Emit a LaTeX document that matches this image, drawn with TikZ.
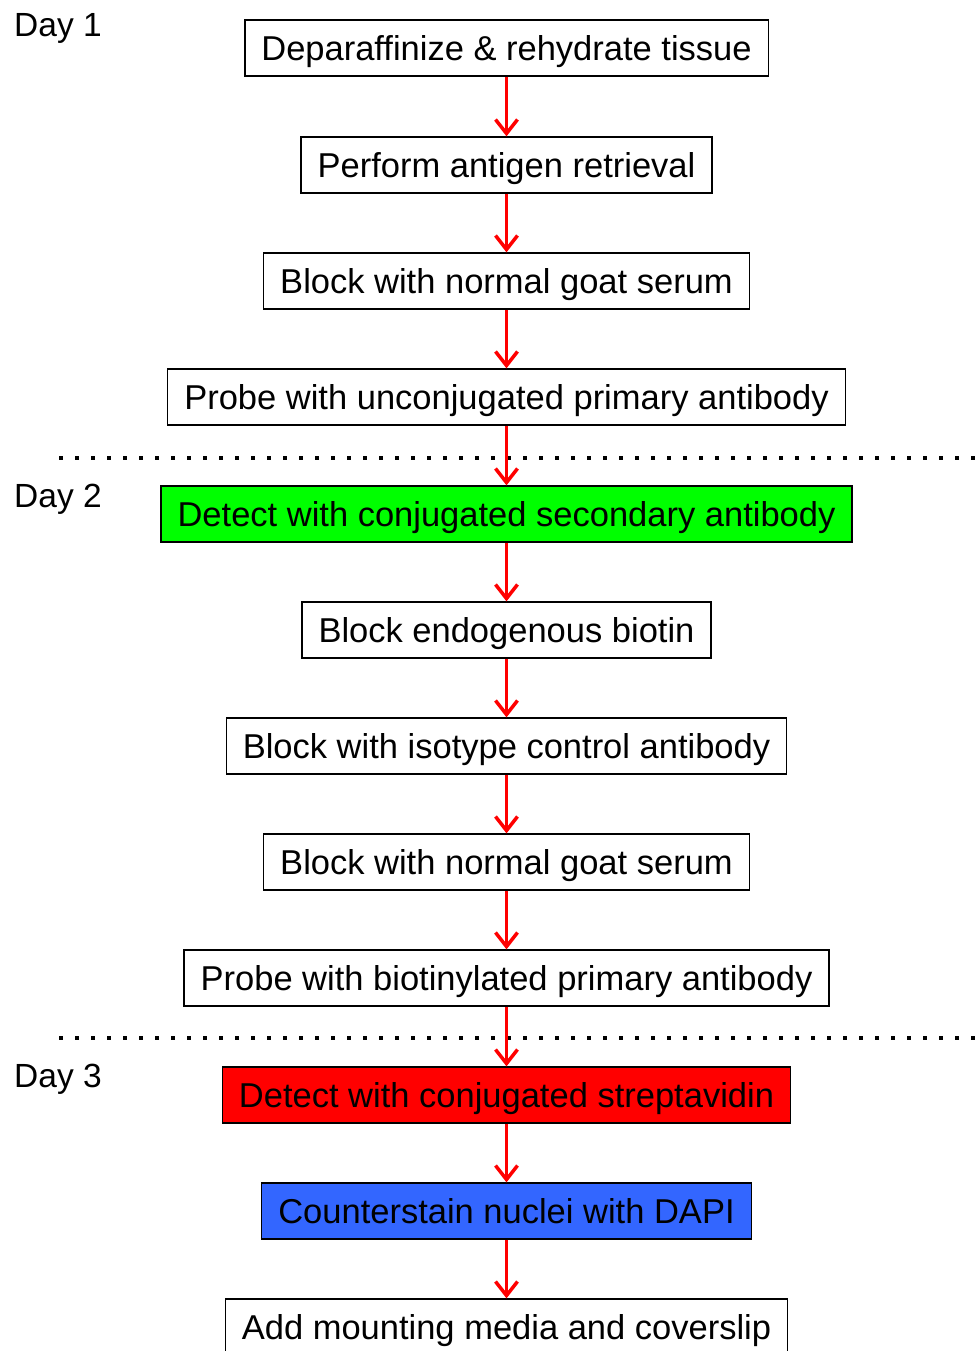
\documentclass[tikz,border=0pt]{standalone}
\usepackage{fontspec}
\setmainfont{Liberation Sans}
\usepackage{xcolor}
\usetikzlibrary{arrows.meta}

\definecolor{stepgreen}{RGB}{0,255,0}
\definecolor{stepred}{RGB}{255,0,0}
\definecolor{stepblue}{RGB}{51,102,255}

\begin{document}
\begin{tikzpicture}[x=1pt, y=-1pt,
  stepbox/.style={draw=black, line width=1.3pt, minimum height=56pt, inner xsep=16.5pt, inner ysep=0pt,
    text height=24.7pt, text depth=0pt, font=\fontsize{34.5}{40}\selectfont},
  flow/.style={draw=red, line width=3.5pt, -{Straight Barb[length=14pt,width=22pt]}},
  daysep/.style={line width=3.5pt, dash pattern=on 3.5pt off 12.5pt},
  daylabel/.style={anchor=base west, inner sep=0pt, font=\fontsize{33.5}{40}\selectfont}]
  \useasboundingbox (0,0) rectangle (979,1351);

  % Day labels
  \node[daylabel] (day1) at (14,37) {Day 1};
  \node[daylabel] (day2) at (14,507) {Day 2};
  \node[daylabel] (day3) at (14,1087) {Day 3};

  % Separators between days
  \draw[daysep] (59,458) -- (979,458);
  \draw[daysep] (59,1038) -- (979,1038);

  % Steps
  \node[stepbox] (s1) at (506.5,48) {Deparaffinize \& rehydrate tissue};
  \node[stepbox] (s2) at (506.5,165) {Perform antigen retrieval};
  \node[stepbox] (s3) at (506.5,281) {Block with normal goat serum};
  \node[stepbox] (s4) at (506.5,397) {Probe with unconjugated primary antibody};
  \node[stepbox, fill=stepgreen] (s5) at (506.5,514) {Detect with conjugated secondary antibody};
  \node[stepbox] (s6) at (506.5,630) {Block endogenous biotin};
  \node[stepbox] (s7) at (506.5,746) {Block with isotype control antibody};
  \node[stepbox] (s8) at (506.5,862) {Block with normal goat serum};
  \node[stepbox] (s9) at (506.5,978) {Probe with biotinylated primary antibody};
  \node[stepbox, fill=stepred] (s10) at (506.5,1095) {Detect with conjugated streptavidin};
  \node[stepbox, fill=stepblue] (s11) at (506.5,1211) {Counterstain nuclei with DAPI};
  \node[stepbox] (s12) at (506.5,1327) {Add mounting media and coverslip};

  % Arrows
  \foreach \i [evaluate=\i as \j using int(\i+1)] in {1,...,11}
    \draw[flow] (s\i.south) -- (s\j.north);
\end{tikzpicture}
\end{document}
